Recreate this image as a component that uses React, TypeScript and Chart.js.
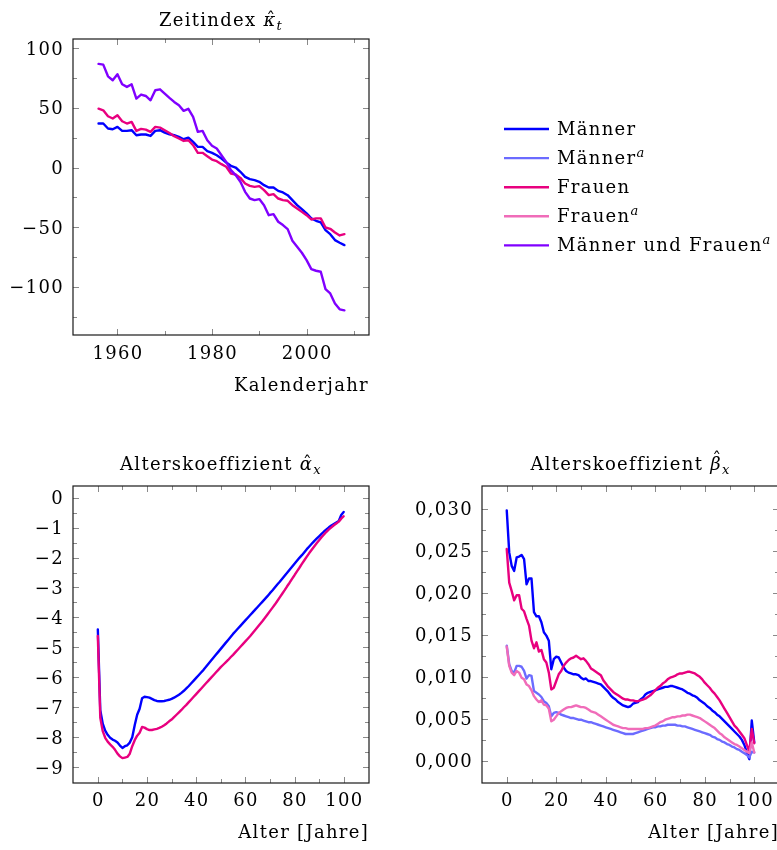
import { useEffect, useRef } from "react";
import { Chart, registerables } from "chart.js";

Chart.register(...registerables);

const FAMILY = '"DejaVu Serif", "Liberation Serif", serif';
const FONT_SIZE = 18;
const LETTER_SPACING = "1.3px";

// ---- Zeitindex kappa_t -------------------------------------------------------
const years = [
  1956, 1957, 1958, 1959, 1960, 1961, 1962, 1963, 1964, 1965,
  1966, 1967, 1968, 1969, 1970, 1971, 1972, 1973, 1974, 1975,
  1976, 1977, 1978, 1979, 1980, 1981, 1982, 1983, 1984, 1985,
  1986, 1987, 1988, 1989, 1990, 1991, 1992, 1993, 1994, 1995,
  1996, 1997, 1998, 1999, 2000, 2001, 2002, 2003, 2004, 2005,
  2006, 2007, 2008,
];
const kappaMaenner = [
  36.9, 36.9, 32.7, 32.1, 34.1, 30.7, 30.7, 31.3, 27.1, 27.7,
  27.7, 26.5, 30.7, 31.3, 29.3, 27.9, 27.1, 25.7, 23.7, 25.1,
  21.5, 17.3, 17.3, 13.7, 12.3, 10.3, 7.5, 4.2, 1.4, 0.0,
  -3.6, -7.8, -9.8, -10.6, -12.0, -14.8, -16.8, -16.8, -19.6, -20.9,
  -23.2, -27.4, -31.6, -34.9, -38.5, -42.7, -44.7, -46.1, -52.5, -55.9,
  -60.9, -63.1, -65.1,
];
const kappaFrauen = [
  49.4, 48.0, 43.0, 41.1, 43.9, 38.8, 36.9, 38.3, 30.7, 32.4,
  31.8, 29.9, 34.1, 33.5, 31.3, 29.0, 26.3, 24.3, 22.3, 22.9,
  18.7, 12.3, 12.3, 9.5, 6.7, 5.3, 2.8, 0.6, -5.0, -5.9,
  -8.7, -13.4, -15.4, -16.2, -15.6, -19.0, -23.2, -22.3, -26.0, -27.4,
  -27.9, -31.6, -34.4, -37.2, -40.0, -43.6, -42.7, -42.7, -50.3, -51.4,
  -54.5, -57.0, -55.9,
];
const kappaGesamt = [
  86.9, 86.3, 76.5, 73.2, 78.2, 69.8, 67.6, 69.8, 57.8, 61.2,
  60.0, 56.4, 64.8, 65.6, 62.0, 58.4, 55.0, 52.2, 47.5, 49.2,
  42.5, 29.9, 30.7, 22.9, 18.2, 15.9, 10.3, 4.7, -2.2, -6.4,
  -12.0, -20.4, -26.0, -27.4, -26.5, -31.6, -40.0, -39.1, -45.5, -48.3,
  -51.7, -61.5, -66.5, -71.5, -77.7, -85.2, -86.6, -87.4, -102.0, -105.6,
  -114.0, -119.0, -119.8,
];

// ---- Alterskoeffizienten ------------------------------------------------------
const ages = [
  0, 1, 2, 3, 4, 5, 6, 7, 8, 9, 10, 11, 12, 13, 14, 15, 16, 17, 18, 19,
  20, 21, 22, 23, 24, 25, 26, 27, 28, 29, 30, 31, 32, 33, 34, 35, 36, 37, 38, 39,
  40, 41, 42, 43, 44, 45, 46, 47, 48, 49, 50, 51, 52, 53, 54, 55, 56, 57, 58, 59,
  60, 61, 62, 63, 64, 65, 66, 67, 68, 69, 70, 71, 72, 73, 74, 75, 76, 77, 78, 79,
  80, 81, 82, 83, 84, 85, 86, 87, 88, 89, 90, 91, 92, 93, 94, 95, 96, 97, 98, 99,
  100,
];
const alphaMaenner = [
  -4.40, -7.10, -7.55, -7.78, -7.92, -8.02, -8.08, -8.12, -8.18, -8.28,
  -8.36, -8.30, -8.27, -8.18, -8.00, -7.60, -7.25, -7.05, -6.70, -6.65,
  -6.66, -6.68, -6.72, -6.76, -6.79, -6.80, -6.80, -6.79, -6.77, -6.75,
  -6.72, -6.68, -6.63, -6.58, -6.52, -6.45, -6.37, -6.29, -6.20, -6.11,
  -6.02, -5.93, -5.84, -5.75, -5.65, -5.55, -5.45, -5.35, -5.25, -5.15,
  -5.05, -4.95, -4.85, -4.75, -4.65, -4.55, -4.46, -4.37, -4.28, -4.19,
  -4.10, -4.01, -3.92, -3.83, -3.74, -3.65, -3.56, -3.47, -3.38, -3.29,
  -3.19, -3.10, -3.00, -2.90, -2.81, -2.71, -2.61, -2.51, -2.41, -2.31,
  -2.21, -2.11, -2.01, -1.92, -1.82, -1.72, -1.63, -1.54, -1.45, -1.37,
  -1.29, -1.21, -1.13, -1.06, -0.99, -0.93, -0.88, -0.83, -0.78, -0.58,
  -0.48,
];
const alphaFrauen = [
  -4.62, -7.35, -7.80, -8.02, -8.15, -8.24, -8.32, -8.42, -8.55, -8.64,
  -8.70, -8.68, -8.66, -8.55, -8.30, -8.10, -7.95, -7.85, -7.66, -7.68,
  -7.73, -7.76, -7.76, -7.74, -7.72, -7.69, -7.65, -7.60, -7.54, -7.47,
  -7.41, -7.33, -7.25, -7.17, -7.09, -7.00, -6.92, -6.83, -6.74, -6.65,
  -6.56, -6.47, -6.38, -6.29, -6.20, -6.11, -6.02, -5.93, -5.84, -5.75,
  -5.66, -5.58, -5.50, -5.42, -5.33, -5.25, -5.16, -5.07, -4.98, -4.89,
  -4.80, -4.71, -4.62, -4.52, -4.42, -4.32, -4.22, -4.12, -4.01, -3.90,
  -3.79, -3.68, -3.57, -3.45, -3.33, -3.21, -3.09, -2.96, -2.84, -2.71,
  -2.59, -2.46, -2.34, -2.21, -2.09, -1.97, -1.85, -1.74, -1.63, -1.52,
  -1.42, -1.32, -1.23, -1.14, -1.06, -0.99, -0.92, -0.86, -0.80, -0.70,
  -0.62,
];
const betaMaenner = [
  0.0298, 0.0248, 0.0232, 0.0226, 0.0242, 0.0243, 0.0245, 0.0240, 0.0210, 0.0217,
  0.0217, 0.0177, 0.0172, 0.0172, 0.0165, 0.0153, 0.0149, 0.0143, 0.0109, 0.0121,
  0.0124, 0.0123, 0.0117, 0.0111, 0.0107, 0.0105, 0.0104, 0.0103, 0.0103, 0.0102,
  0.0099, 0.0097, 0.0098, 0.0095, 0.0095, 0.0094, 0.0093, 0.0092, 0.0091, 0.0088,
  0.0085, 0.0082, 0.0078, 0.0075, 0.0073, 0.0070, 0.0068, 0.0066, 0.0065, 0.0064,
  0.0065, 0.0068, 0.0069, 0.0070, 0.0073, 0.0075, 0.0079, 0.0081, 0.0082, 0.0083,
  0.0084, 0.0085, 0.0086, 0.0087, 0.0088, 0.0088, 0.0089, 0.0089, 0.0088, 0.0087,
  0.0086, 0.0085, 0.0083, 0.0081, 0.0080, 0.0078, 0.0077, 0.0075, 0.0072, 0.0070,
  0.0068, 0.0065, 0.0063, 0.0060, 0.0058, 0.0055, 0.0053, 0.0050, 0.0047, 0.0044,
  0.0041, 0.0038, 0.0035, 0.0032, 0.0029, 0.0025, 0.0019, 0.0010, 0.0002, 0.0048,
  0.0022,
];
const betaMaennerA = [
  0.0137, 0.0115, 0.0107, 0.0105, 0.0113, 0.0113, 0.0112, 0.0107, 0.0098, 0.0102,
  0.0101, 0.0083, 0.0081, 0.0079, 0.0076, 0.0071, 0.0069, 0.0065, 0.0053, 0.0057,
  0.0058, 0.0057, 0.0055, 0.0054, 0.0053, 0.0052, 0.0051, 0.0051, 0.0050, 0.0049,
  0.0049, 0.0048, 0.0047, 0.0046, 0.0046, 0.0045, 0.0044, 0.0043, 0.0042, 0.0041,
  0.0040, 0.0039, 0.0038, 0.0037, 0.0036, 0.0035, 0.0034, 0.0033, 0.0032, 0.0032,
  0.0032, 0.0032, 0.0033, 0.0034, 0.0035, 0.0036, 0.0037, 0.0038, 0.0039, 0.0040,
  0.0040, 0.0041, 0.0041, 0.0042, 0.0042, 0.0043, 0.0043, 0.0043, 0.0043, 0.0042,
  0.0042, 0.0041, 0.0041, 0.0040, 0.0039, 0.0038, 0.0037, 0.0036, 0.0035, 0.0034,
  0.0033, 0.0032, 0.0031, 0.0029, 0.0028, 0.0026, 0.0025, 0.0023, 0.0022, 0.0020,
  0.0019, 0.0017, 0.0016, 0.0014, 0.0013, 0.0011, 0.0009, 0.0007, 0.0004, 0.0011,
  0.0010,
];
const betaFrauen = [
  0.0252, 0.0212, 0.0202, 0.0191, 0.0197, 0.0197, 0.0181, 0.0178, 0.0169, 0.0161,
  0.0143, 0.0134, 0.0141, 0.0130, 0.0132, 0.0121, 0.0117, 0.0105, 0.0085, 0.0087,
  0.0095, 0.0103, 0.0107, 0.0113, 0.0117, 0.0120, 0.0122, 0.0123, 0.0125, 0.0123,
  0.0121, 0.0122, 0.0119, 0.0115, 0.0110, 0.0108, 0.0106, 0.0104, 0.0102, 0.0096,
  0.0092, 0.0088, 0.0085, 0.0082, 0.0080, 0.0078, 0.0076, 0.0074, 0.0073, 0.0073,
  0.0072, 0.0072, 0.0071, 0.0071, 0.0072, 0.0073, 0.0074, 0.0076, 0.0078, 0.0081,
  0.0084, 0.0087, 0.0089, 0.0092, 0.0094, 0.0097, 0.0099, 0.0100, 0.0101, 0.0103,
  0.0104, 0.0104, 0.0105, 0.0106, 0.0106, 0.0105, 0.0104, 0.0102, 0.0100, 0.0097,
  0.0093, 0.0090, 0.0087, 0.0083, 0.0080, 0.0076, 0.0072, 0.0067, 0.0062, 0.0057,
  0.0052, 0.0047, 0.0042, 0.0039, 0.0035, 0.0031, 0.0027, 0.0019, 0.0011, 0.0038,
  0.0021,
];
const betaFrauenA = [
  0.0136, 0.0113, 0.0105, 0.0102, 0.0107, 0.0105, 0.0099, 0.0097, 0.0091, 0.0089,
  0.0084, 0.0077, 0.0073, 0.0070, 0.0072, 0.0067, 0.0066, 0.0062, 0.0047, 0.0049,
  0.0053, 0.0057, 0.0059, 0.0061, 0.0063, 0.0064, 0.0064, 0.0065, 0.0066, 0.0065,
  0.0064, 0.0064, 0.0063, 0.0061, 0.0059, 0.0058, 0.0057, 0.0055, 0.0053, 0.0051,
  0.0049, 0.0047, 0.0045, 0.0043, 0.0042, 0.0041, 0.0040, 0.0039, 0.0039, 0.0038,
  0.0038, 0.0038, 0.0038, 0.0038, 0.0038, 0.0038, 0.0039, 0.0039, 0.0040, 0.0041,
  0.0042, 0.0044, 0.0046, 0.0047, 0.0049, 0.0050, 0.0051, 0.0052, 0.0052, 0.0053,
  0.0053, 0.0054, 0.0054, 0.0055, 0.0055, 0.0054, 0.0053, 0.0052, 0.0051, 0.0049,
  0.0047, 0.0045, 0.0043, 0.0041, 0.0039, 0.0036, 0.0033, 0.0031, 0.0028, 0.0026,
  0.0024, 0.0022, 0.0020, 0.0019, 0.0017, 0.0015, 0.0013, 0.0011, 0.0009, 0.0022,
  0.0010,
];

// ---- Achsen-Ticks -------------------------------------------------------------
const kappaXTicks = [1960, 1980, 2000];
const kappaXMinor = [1970, 1990, 2010];
const kappaYTicks = [-100, -50, 0, 50, 100];
const kappaYMinor = [-125, -75, -25, 25, 75];
const ageXTicks = [0, 20, 40, 60, 80, 100];
const ageXMinor = [10, 30, 50, 70, 90];
const alphaYTicks = [0, -1, -2, -3, -4, -5, -6, -7, -8, -9];
const alphaYMinor = [-0.5, -1.5, -2.5, -3.5, -4.5, -5.5, -6.5, -7.5, -8.5];
const betaYTicks = [0, 0.005, 0.01, 0.015, 0.02, 0.025, 0.03];
const betaYMinor = [0.0025, 0.0075, 0.0125, 0.0175, 0.0225, 0.0275];

// ---- Legende --------------------------------------------------------------------
const legendLabels = ["Männer", "Männer", "Frauen", "Frauen", "Männer und Frauen"];
const legendMarks = ["", "a", "", "a", "a"];

const COLORS = {
  maenner: "#0000ff",
  maennerA: "#6b6bff",
  frauen: "#e8007f",
  frauenA: "#f06cb9",
  gesamt: "#8000ff",
};
const legendColors = [COLORS.maenner, COLORS.maennerA, COLORS.frauen, COLORS.frauenA, COLORS.gesamt];

type Seg = { t: string; it?: boolean; sub?: boolean; sup?: boolean; hat?: "low" | "high" };

function segFont(s: Seg, size: number) {
  const sz = s.sub || s.sup ? Math.round(size * 0.72) : size;
  return `${s.it ? "italic " : ""}${sz}px ${FAMILY}`;
}

function drawRich(
  ctx: CanvasRenderingContext2D,
  segs: Seg[],
  x: number,
  y: number,
  size: number,
  align: "left" | "center" | "right"
) {
  let total = 0;
  const widths = segs.map((s) => {
    ctx.font = segFont(s, size);
    const w = ctx.measureText(s.t).width;
    total += w;
    return w;
  });
  let cx = align === "center" ? x - total / 2 : align === "right" ? x - total : x;
  ctx.fillStyle = "#000";
  ctx.textBaseline = "alphabetic";
  segs.forEach((s, i) => {
    ctx.font = segFont(s, size);
    ctx.textAlign = "left";
    const dy = s.sub ? size * 0.22 : s.sup ? -size * 0.42 : 0;
    ctx.fillText(s.t, cx, y + dy);
    if (s.hat) {
      ctx.font = `${size}px ${FAMILY}`;
      ctx.textAlign = "center";
      const lift = s.hat === "high" ? size * 0.22 : size * 0.02;
      ctx.fillText("ˆ", cx + widths[i] / 2 + size * 0.08, y - lift);
    }
    cx += widths[i];
  });
  ctx.textAlign = "left";
}

type Series = { label: string; xs: number[]; ys: number[]; color: string };
type Area = { left: number; top: number; right: number; bottom: number };

interface PanelSpec {
  left: number;
  top: number;
  width: number;
  height: number;
  area: Area;
  xMin: number;
  xMax: number;
  yMin: number;
  yMax: number;
  xTicks: number[];
  xMinor: number[];
  yTicks: number[];
  yMinor: number[];
  fmtY: (v: number) => string;
  title: Seg[];
  titleY: number;
  xLabel: string;
  xLabelY: number;
  xTickY: number;
  series: Series[];
  legend?: boolean;
}

const minus = (v: number) => (v < 0 ? "\u2212" + String(Math.abs(v)) : String(v));
const comma = (v: number) => v.toFixed(3).replace(".", ",");

const panels: PanelSpec[] = [
  {
    left: 0,
    top: 0,
    width: 777,
    height: 420,
    area: { left: 73, top: 39, right: 369, bottom: 335 },
    xMin: 1950.6,
    xMax: 2013.2,
    yMin: -140.5,
    yMax: 107.8,
    xTicks: kappaXTicks,
    xMinor: kappaXMinor,
    yTicks: kappaYTicks,
    yMinor: kappaYMinor,
    fmtY: minus,
    title: [{ t: "Zeitindex " }, { t: "κ", it: true, hat: "low" }, { t: "t", it: true, sub: true }],
    titleY: 26,
    xLabel: "Kalenderjahr",
    xLabelY: 391,
    xTickY: 359,
    series: [
      { label: "Männer", xs: years, ys: kappaMaenner, color: COLORS.maenner },
      { label: "Frauen", xs: years, ys: kappaFrauen, color: COLORS.frauen },
      { label: "Männer und Frauen", xs: years, ys: kappaGesamt, color: COLORS.gesamt },
    ],
    legend: true,
  },
  {
    left: 0,
    top: 440,
    width: 400,
    height: 410,
    area: { left: 73, top: 46, right: 369, bottom: 343 },
    xMin: -10.1,
    xMax: 110.3,
    yMin: -9.53,
    yMax: 0.39,
    xTicks: ageXTicks,
    xMinor: ageXMinor,
    yTicks: alphaYTicks,
    yMinor: alphaYMinor,
    fmtY: minus,
    title: [{ t: "Alterskoeffizient " }, { t: "α", it: true, hat: "low" }, { t: "x", it: true, sub: true }],
    titleY: 30,
    xLabel: "Alter [Jahre]",
    xLabelY: 398,
    xTickY: 366,
    series: [
      { label: "Männer", xs: ages, ys: alphaMaenner, color: COLORS.maenner },
      { label: "Frauen", xs: ages, ys: alphaFrauen, color: COLORS.frauen },
    ],
  },
  {
    left: 400,
    top: 440,
    width: 400,
    height: 410,
    area: { left: 82, top: 46, right: 379, bottom: 343 },
    xMin: -10,
    xMax: 110,
    yMin: -0.00263,
    yMax: 0.0327,
    xTicks: ageXTicks,
    xMinor: ageXMinor,
    yTicks: betaYTicks,
    yMinor: betaYMinor,
    fmtY: comma,
    title: [{ t: "Alterskoeffizient " }, { t: "β", it: true, hat: "high" }, { t: "x", it: true, sub: true }],
    titleY: 30,
    xLabel: "Alter [Jahre]",
    xLabelY: 398,
    xTickY: 366,
    series: [
      { label: "Männer", xs: ages, ys: betaMaenner, color: COLORS.maenner },
      { label: "Männer^a", xs: ages, ys: betaMaennerA, color: COLORS.maennerA },
      { label: "Frauen", xs: ages, ys: betaFrauen, color: COLORS.frauen },
      { label: "Frauen^a", xs: ages, ys: betaFrauenA, color: COLORS.frauenA },
    ],
  },
];

function Panel({ spec }: { spec: PanelSpec }) {
  const ref = useRef<HTMLCanvasElement>(null);

  useEffect(() => {
    const canvas = ref.current;
    if (!canvas) return;
    const a = spec.area;

    // frame, inward tick marks, tick labels, title, axis label and legend
    const decorations = {
      id: "decorations",
      afterDraw(chart: Chart) {
        const ctx = chart.ctx;
        const ca = chart.chartArea;
        const xs = chart.scales.x;
        const ys = chart.scales.y;
        ctx.save();
        (ctx as any).letterSpacing = LETTER_SPACING;
        ctx.strokeStyle = "#8a8a8a";
        ctx.lineWidth = 1;
        const vTick = (v: number, len: number) => {
          const px = Math.round(xs.getPixelForValue(v)) + 0.5;
          ctx.beginPath();
          ctx.moveTo(px, ca.top);
          ctx.lineTo(px, ca.top + len);
          ctx.moveTo(px, ca.bottom);
          ctx.lineTo(px, ca.bottom - len);
          ctx.stroke();
        };
        const hTick = (v: number, len: number) => {
          const py = Math.round(ys.getPixelForValue(v)) + 0.5;
          ctx.beginPath();
          ctx.moveTo(ca.left, py);
          ctx.lineTo(ca.left + len, py);
          ctx.moveTo(ca.right, py);
          ctx.lineTo(ca.right - len, py);
          ctx.stroke();
        };
        spec.xTicks.forEach((v) => vTick(v, 6));
        spec.xMinor.forEach((v) => vTick(v, 4));
        spec.yTicks.forEach((v) => hTick(v, 6));
        spec.yMinor.forEach((v) => hTick(v, 4));

        ctx.strokeStyle = "#1a1a1a";
        ctx.lineWidth = 1.2;
        ctx.strokeRect(ca.left, ca.top, ca.right - ca.left, ca.bottom - ca.top);

        // tick labels
        ctx.fillStyle = "#000";
        ctx.font = `${FONT_SIZE}px ${FAMILY}`;
        ctx.textBaseline = "alphabetic";
        ctx.textAlign = "center";
        spec.xTicks.forEach((v) => {
          ctx.fillText(String(v), xs.getPixelForValue(v) + 0.6, spec.xTickY);
        });
        ctx.textAlign = "right";
        spec.yTicks.forEach((v) => {
          ctx.fillText(spec.fmtY(v), ca.left - 9, ys.getPixelForValue(v) + 6.5);
        });

        drawRich(ctx, spec.title, (ca.left + ca.right) / 2, spec.titleY, FONT_SIZE, "center");
        drawRich(ctx, [{ t: spec.xLabel }], Math.min(ca.right, 776), spec.xLabelY, FONT_SIZE, "right");

        if (spec.legend) {
          legendLabels.forEach((label, i) => {
            const rowY = 129 + i * 29.1;
            ctx.strokeStyle = legendColors[i];
            ctx.lineWidth = 2.4;
            ctx.beginPath();
            ctx.moveTo(504, rowY);
            ctx.lineTo(549, rowY);
            ctx.stroke();
            const segs: Seg[] = [{ t: label }];
            if (legendMarks[i]) segs.push({ t: legendMarks[i], it: true, sup: true });
            drawRich(ctx, segs, 557, rowY + 6, FONT_SIZE, "left");
          });
        }
        ctx.restore();
      },
    };

    const n = spec.series.length;

    const chart = new Chart(canvas, {
      type: "line",
      data: {
        datasets: spec.series.map((s, i) => ({
          label: s.label,
          data: s.xs.map((x, j) => ({ x, y: s.ys[j] })),
          borderColor: s.color,
          backgroundColor: s.color,
          borderWidth: 2.4,
          pointRadius: 0,
          fill: false,
          tension: 0,
          borderJoinStyle: "round" as const,
          borderCapStyle: "round" as const,
          order: n - i,
        })),
      },
      options: {
        animation: false,
        responsive: false,
        devicePixelRatio: 1,
        events: [],
        layout: {
          autoPadding: false,
          padding: { left: 0, top: a.top, right: spec.width - a.right, bottom: 0 },
        },
        plugins: {
          legend: { display: false },
          tooltip: { enabled: false },
          title: { display: false },
        },
        scales: {
          x: {
            type: "linear",
            min: spec.xMin,
            max: spec.xMax,
            grid: { display: false },
            border: { display: false },
            ticks: { display: false },
            afterBuildTicks: (s: any) => {
              s.ticks = spec.xTicks.map((v) => ({ value: v }));
            },
            afterFit: (s: any) => {
              s.height = spec.height - a.bottom;
            },
          },
          y: {
            type: "linear",
            min: spec.yMin,
            max: spec.yMax,
            grid: { display: false },
            border: { display: false },
            ticks: { display: false },
            afterBuildTicks: (s: any) => {
              s.ticks = spec.yTicks.map((v) => ({ value: v }));
            },
            afterFit: (s: any) => {
              s.width = a.left;
            },
          },
        },
      },
      plugins: [decorations],
    } as any);

    return () => chart.destroy();
  }, [spec]);

  return (
    <canvas
      ref={ref}
      width={spec.width}
      height={spec.height}
      style={{
        position: "absolute",
        left: spec.left,
        top: spec.top,
        width: spec.width,
        height: spec.height,
      }}
    />
  );
}

export default function App() {
  return (
    <div
      style={{
        position: "fixed",
        left: 0,
        top: 0,
        width: 777,
        height: 850,
        overflow: "hidden",
        background: "#ffffff",
      }}
    >
      {panels.map((p, i) => (
        <Panel key={i} spec={p} />
      ))}
    </div>
  );
}
